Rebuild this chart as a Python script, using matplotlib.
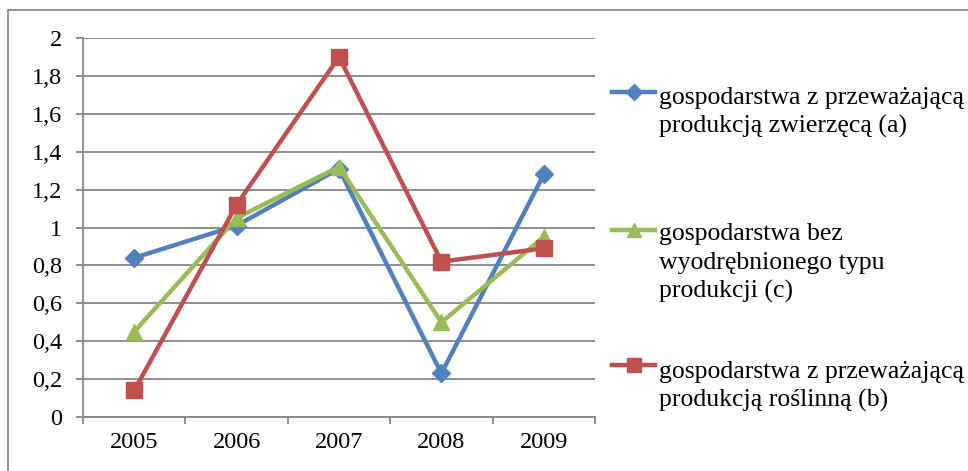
import matplotlib
matplotlib.use("Agg")
import matplotlib.pyplot as plt
from matplotlib.lines import Line2D
from matplotlib.patches import Rectangle

years = ["2005", "2006", "2007", "2008", "2009"]
zwierzeca_a = [0.84, 1.01, 1.31, 0.23, 1.28]
bez_typu_c = [0.45, 1.05, 1.32, 0.50, 0.95]
roslinna_b = [0.14, 1.12, 1.90, 0.82, 0.89]
y_ticks = [0, 0.2, 0.4, 0.6, 0.8, 1.0, 1.2, 1.4, 1.6, 1.8, 2.0]
y_tick_labels = ["0", "0,2", "0,4", "0,6", "0,8", "1", "1,2", "1,4", "1,6", "1,8", "2"]
labels = [
    "gospodarstwa z przeważającą\nprodukcją zwierzęcą (a)",
    "gospodarstwa bez\nwyodrębnionego typu\nprodukcji (c)",
    "gospodarstwa z przeważającą\nprodukcją roślinną (b)",
]

W, H = 968, 471
fig = plt.figure(figsize=(W / 100, H / 100), dpi=100)
plt.rcParams['font.family'] = ['Liberation Serif', 'DejaVu Serif']

ax = fig.add_axes([83 / W, (H - 417) / H, (595 - 83) / W, (417 - 38) / H])

series = [
    (zwierzeca_a, "#4F81BD", "D", 9, labels[0]),
    (bez_typu_c, "#9BBB59", "^", 11, labels[1]),
    (roslinna_b, "#C0504D", "s", 11.5, labels[2]),
]
x = list(range(len(years)))
for vals, col, mk, ms, lab in series:
    ax.plot(x, vals, color=col, lw=3.2, marker=mk, markersize=ms,
            markerfacecolor=col, markeredgecolor=col, label=lab, clip_on=False)

ax.set_xlim(-0.5, len(years) - 0.5)
ax.set_ylim(0, 2)
ax.set_yticks(y_ticks)
ax.set_yticklabels(y_tick_labels, fontsize=17.5)
ax.set_xticks(x)
ax.set_xticklabels(years, fontsize=17.5)
ax.set_xticks([i - 0.5 for i in range(len(years) + 1)], minor=True)
ax.tick_params(axis='x', which='major', length=0, pad=11)
ax.tick_params(axis='x', which='minor', length=5, color="#868686", width=1.3)
ax.tick_params(axis='y', length=5, color="#868686", width=1.3, pad=10)
ax.yaxis.grid(True, color="#868686", lw=1.3)
ax.set_axisbelow(True)
for s in ["top", "right"]:
    ax.spines[s].set_visible(False)
for s in ["left", "bottom"]:
    ax.spines[s].set_color("#868686")
    ax.spines[s].set_linewidth(1.3)

# legend (manual layout): marker centre and first-line baseline, px from top
marker_y = [92, 230, 365]
first_baseline = [104, 240, 378]
line_step = 28.7
for (vals, col, mk, ms, lab), yc, yb in zip(series, marker_y, first_baseline):
    yf = 1 - yc / H
    fig.add_artist(Line2D([612 / W, 655 / W], [yf, yf], color=col, lw=3.2,
                          transform=fig.transFigure))
    fig.add_artist(Line2D([633.5 / W], [yf], color=col, marker=mk,
                          markersize=ms - 1, transform=fig.transFigure))
    for i, line in enumerate(lab.split("\n")):
        fig.text(659 / W, 1 - (yb + i * line_step) / H, line, fontsize=18.5,
                 va='baseline', ha='left', transform=fig.transFigure)

fig.add_artist(Rectangle((8 / W, -0.1), 1.1, 1 - 10 / H + 0.1, fill=False,
                         edgecolor="#888888", lw=1.3, transform=fig.transFigure))

fig.savefig("out.png", dpi=100)
